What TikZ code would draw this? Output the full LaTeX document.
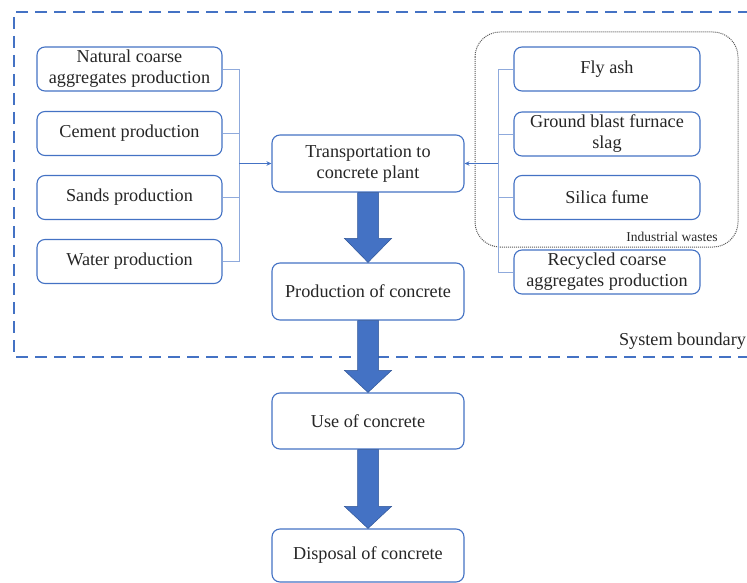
\documentclass[tikz,border=0pt]{standalone}
\usepackage{fontspec}
\setmainfont{Liberation Serif}
\usetikzlibrary{arrows.meta,calc}
\definecolor{boxblue}{HTML}{4472C4}
\definecolor{lightblue}{HTML}{8FAADC}
\definecolor{arrdraw}{HTML}{2F5597}
\definecolor{txt}{HTML}{262626}
\tikzset{
  procbox/.style={draw=boxblue, line width=1.1pt, rounded corners=8pt, fill=white,
    align=center, font=\fontsize{18.2}{21}\selectfont, text=txt, inner sep=1pt,
    minimum width=#1, minimum height=44pt},
  procbox/.default=185pt,
  feed/.style={draw=lightblue, line width=0.9pt},
  smallarr/.style={draw=boxblue, line width=1.1pt, -{Stealth[length=5pt,width=4.5pt]}},
  bigarr/.style={fill=boxblue, draw=arrdraw, line width=0.5pt},
}
\newcommand\fatarrow[3]{%
  \path[bigarr] let \p1=(#1.south), \p2=(#2.north) in
    (\x1-10.5pt,\y1) -- (\x1+10.5pt,\y1) -- (\x1+10.5pt,\y2+#3) -- (\x1+23.5pt,\y2+#3)
    -- (\x1,\y2) -- (\x1-23.5pt,\y2+#3) -- (\x1-10.5pt,\y2+#3) -- cycle;}
\begin{document}
\begin{tikzpicture}[x=1pt,y=-1pt]
\useasboundingbox (0,0) rectangle (747,583);
% system boundary
\draw[boxblue, line width=2pt, dash pattern=on 12pt off 7pt] (750,12) -- (14,12) -- (14,357) -- (750,357);
\node[font=\fontsize{18.2}{21}\selectfont, text=txt] (sysb) at (682.5,341) {System boundary};
% industrial wastes group
\draw[gray!70!black, line width=1pt, densely dotted, rounded corners=25pt] (475,32) rectangle (738,247);
\node[font=\fontsize{13.5}{15}\selectfont, text=txt] (indw) at (672,237) {Industrial wastes};
% left boxes
\node[procbox] (nca) at (129.5,69) {Natural coarse\\aggregates production};
\node[procbox] (cem) at (129.5,133.5) {Cement production};
\node[procbox] (san) at (129.5,197.5) {Sands production};
\node[procbox] (wat) at (129.5,261.5) {Water production};
% right boxes
\node[procbox=186pt] (fly) at (607,69) {Fly ash};
\node[procbox=186pt] (gbf) at (607,134) {Ground blast furnace\\slag};
\node[procbox=186pt] (sil) at (607,197.5) {Silica fume};
\node[procbox=186pt] (rca) at (607,272) {Recycled coarse\\aggregates production};
% central boxes
\node[procbox=192pt, minimum height=57pt] (tra) at (368,163.5) {Transportation to\\concrete plant};
\node[procbox=192pt, minimum height=57pt] (pro) at (368,291.5) {Production of concrete};
\node[procbox=192pt, minimum height=56pt] (use) at (368,421) {Use of concrete};
\node[procbox=192pt, minimum height=53pt] (dis) at (368,555.5) {Disposal of concrete};
% left feeders
\coordinate (lt) at (239,69);
\coordinate (lb) at (239,261.5);
\coordinate (lm) at (239,163.5);
\draw[feed] (nca.east) -- (lt) -- (lb) -- (wat.east);
\draw[feed] (cem.east) -- (cem.east -| lt);
\draw[feed] (san.east) -- (san.east -| lt);
\draw[smallarr] (lm) -- (tra.west);
% right feeders
\coordinate (rt) at (498,69);
\coordinate (rb) at (498,272);
\coordinate (rm) at (498,163.5);
\draw[feed] (fly.west) -- (rt) -- (rb) -- (rca.west);
\draw[feed] (gbf.west) -- (gbf.west -| rt);
\draw[feed] (sil.west) -- (sil.west -| rt);
\draw[smallarr] (rm) -- (tra.east);
% big arrows
\fatarrow{tra}{pro}{24pt}
\fatarrow{pro}{use}{22pt}
\fatarrow{use}{dis}{22pt}
\end{tikzpicture}
\end{document}
